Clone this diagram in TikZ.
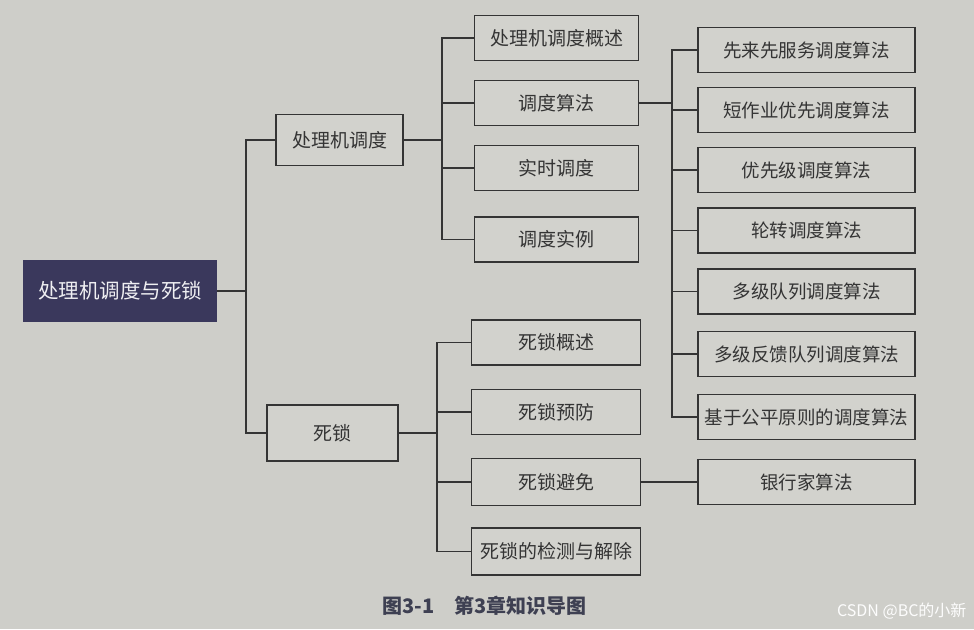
\documentclass[tikz,border=0pt]{standalone}
\usepackage{fontspec}
\newfontfamily\cjk{Noto Sans CJK SC}
\definecolor{paper}{RGB}{206,206,201}
\definecolor{boxfill}{RGB}{210,210,205}
\definecolor{ink}{RGB}{52,52,52}
\definecolor{navy}{RGB}{58,56,92}
\definecolor{capink}{RGB}{62,64,82}
\tikzset{
  box/.style={draw=ink, line width=1.7pt, fill=boxfill, text=ink, font=\cjk\fontsize{19}{21}\selectfont, inner sep=0pt, anchor=center},
  rootbox/.style={fill=navy, text=white!92!navy, font=\cjk\fontsize{20.5}{22}\selectfont, inner sep=0pt, minimum width=194pt, minimum height=62pt},
  lvlone/.style={box, minimum height=51pt},
  lvltwo/.style={box, minimum width=164pt, minimum height=45pt},
  lvlthree/.style={box, minimum width=217pt, minimum height=45pt, font=\cjk\fontsize{18.5}{21}\selectfont},
  conn/.style={draw=ink, line width=1.7pt}
}
\begin{document}
\begin{tikzpicture}[x=1pt,y=-1pt]
\fill[paper] (0,0) rectangle (974,629);
\useasboundingbox (0,0) rectangle (974,629);

% root
\node[rootbox] (root) at (120,291) {处理机调度与死锁};

% level one
\node[lvlone, minimum width=127pt] (pcd) at (339.5,140) {处理机调度};
\node[lvlone, minimum width=131pt, minimum height=56pt] (sl) at (332.5,433) {死锁};

% level two (scheduling)
\node[lvltwo] (a1) at (556.5,38) {处理机调度概述};
\node[lvltwo] (a2) at (556.5,103) {调度算法};
\node[lvltwo] (a3) at (556.5,168) {实时调度};
\node[lvltwo] (a4) at (556.5,239.5) {调度实例};

% level two (deadlock)
\node[lvltwo, minimum width=169pt] (b1) at (556,342.5) {死锁概述};
\node[lvltwo, minimum width=169pt] (b2) at (556,412) {死锁预防};
\node[lvltwo, minimum width=169pt, minimum height=47pt] (b3) at (556,482) {死锁避免};
\node[lvltwo, minimum width=169pt, minimum height=47pt] (b4) at (556,551.5) {死锁的检测与解除};

% level three
\node[lvlthree] (c1) at (806.5,50) {先来先服务调度算法};
\node[lvlthree] (c2) at (806.5,110) {短作业优先调度算法};
\node[lvlthree] (c3) at (806.5,170) {优先级调度算法};
\node[lvlthree] (c4) at (806.5,230.5) {轮转调度算法};
\node[lvlthree] (c5) at (806.5,291.5) {多级队列调度算法};
\node[lvlthree] (c6) at (806.5,354) {多级反馈队列调度算法};
\node[lvlthree] (c7) at (806.5,417) {基于公平原则的调度算法};
\node[lvlthree] (c8) at (806.5,482) {银行家算法};

% trunk positions
\coordinate (j0) at (246,0);
\coordinate (j1) at (442,0);
\coordinate (j2) at (437,0);
\coordinate (j3) at (672,0);

% connectors
\draw[conn] (root.east) -- (root.east -| j0) |- (pcd.west);
\draw[conn] (root.east -| j0) |- (sl.west);

\draw[conn] (pcd.east) -- (pcd.east -| j1);
\foreach \n in {a1,a2,a3,a4} \draw[conn] (pcd.east -| j1) |- (\n.west);

\draw[conn] (sl.east) -- (sl.east -| j2);
\foreach \n in {b1,b2,b3,b4} \draw[conn] (sl.east -| j2) |- (\n.west);

\draw[conn] (a2.east) -- (a2.east -| j3);
\foreach \n in {c1,c2,c3,c4,c5,c6,c7} \draw[conn] (a2.east -| j3) |- (\n.west);

\draw[conn] (b3.east) -- (c8.west);

% caption
\node[font=\cjk\bfseries\fontsize{20}{22}\selectfont, text=capink, anchor=west, inner sep=0pt] (cap) at (382,606) {图3-1\hspace{20pt}第3章知识导图};

% watermark
\node[font=\cjk\fontsize{16}{18}\selectfont, text=white!96!paper, anchor=east] (wm) at (970,611) {CSDN @BC的小新};
\end{tikzpicture}
\end{document}
